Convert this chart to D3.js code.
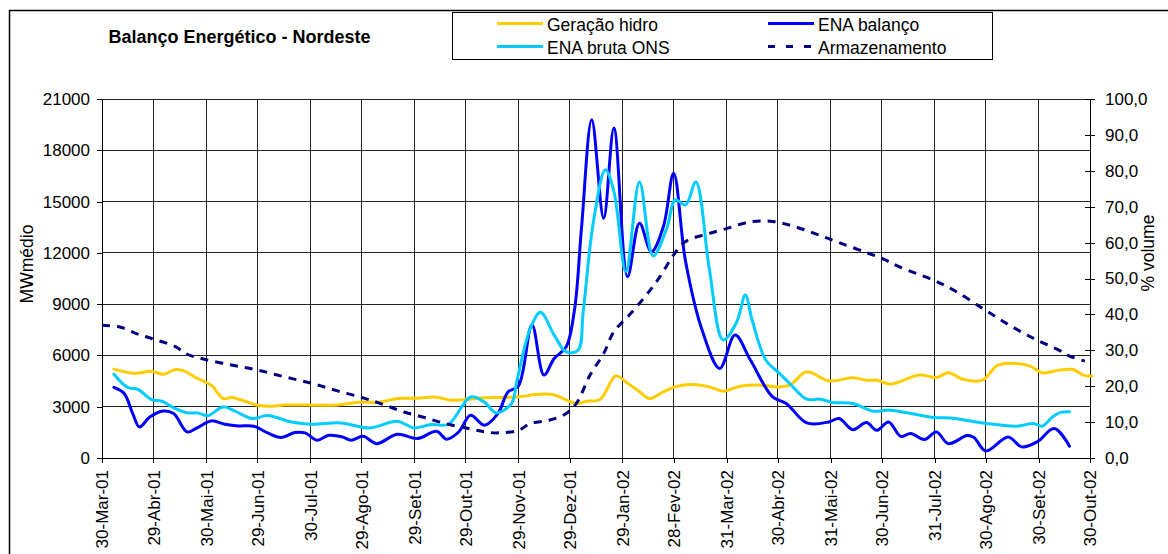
<!DOCTYPE html>
<html><head><meta charset="utf-8">
<script src="https://cdn.jsdelivr.net/npm/d3@7"></script>
<style>
html,body{margin:0;padding:0;background:#fff;}
svg{display:block;font-family:"Liberation Sans",Arial,sans-serif;}
</style></head><body>
<svg id="chart" width="1168" height="554"></svg>
<script>
// ---------- DATA ----------
const tickDates = ["2001-03-30","2001-04-29","2001-05-30","2001-06-29","2001-07-30","2001-08-29","2001-09-29","2001-10-29","2001-11-29","2001-12-29","2002-01-29","2002-02-28","2002-03-31","2002-04-30","2002-05-31","2002-06-30","2002-07-31","2002-08-30","2002-09-30","2002-10-30"];
const tickLabels = ["30-Mar-01","29-Abr-01","30-Mai-01","29-Jun-01","30-Jul-01","29-Ago-01","29-Set-01","29-Out-01","29-Nov-01","29-Dez-01","29-Jan-02","28-Fev-02","31-Mar-02","30-Abr-02","31-Mai-02","30-Jun-02","31-Jul-02","30-Ago-02","30-Set-02","30-Out-02"];
const leftTicks = [0,3000,6000,9000,12000,15000,18000,21000];
const rightTicks = [0,10,20,30,40,50,60,70,80,90,100];

const hidroDates = ["2001-04-06","2001-04-18","2001-04-28","2001-05-05","2001-05-12","2001-05-17","2001-05-25","2001-06-02","2001-06-09","2001-06-14","2001-06-20","2001-06-29","2001-07-07","2001-07-15","2001-08-04","2001-08-15","2001-08-29","2001-09-08","2001-09-19","2001-10-01","2001-10-11","2001-10-21","2001-10-30","2001-11-09","2001-11-21","2001-12-03","2001-12-08","2001-12-19","2002-01-02","2002-01-08","2002-01-16","2002-01-25","2002-01-31","2002-02-08","2002-02-14","2002-02-22","2002-03-02","2002-03-11","2002-03-21","2002-03-29","2002-04-08","2002-04-20","2002-04-29","2002-05-07","2002-05-17","2002-05-30","2002-06-13","2002-06-21","2002-06-27","2002-07-05","2002-07-22","2002-08-01","2002-08-08","2002-08-17","2002-08-28","2002-09-06","2002-09-17","2002-09-25","2002-10-02","2002-10-12","2002-10-20","2002-10-26","2002-10-31"];
const hidroValues = [5200,4950,5080,4900,5180,5100,4650,4260,3480,3540,3380,3090,3030,3100,3090,3100,3280,3260,3480,3500,3570,3380,3420,3520,3540,3620,3710,3710,3190,3320,3440,4800,4450,3870,3480,3870,4200,4300,4160,3910,4200,4260,4160,4260,5040,4510,4690,4550,4550,4320,4850,4710,4980,4590,4550,5430,5530,5370,4980,5140,5180,4850,4790];

const brutaDates = ["2001-04-06","2001-04-14","2001-04-20","2001-04-28","2001-05-04","2001-05-12","2001-05-19","2001-05-25","2001-05-31","2001-06-09","2001-06-16","2001-06-26","2001-07-05","2001-07-19","2001-07-31","2001-08-17","2001-09-03","2001-09-19","2001-09-29","2001-10-09","2001-10-19","2001-11-01","2001-11-09","2001-11-16","2001-11-25","2001-11-28","2001-12-06","2001-12-12","2001-12-20","2001-12-27","2002-01-03","2002-01-06","2002-01-12","2002-01-19","2002-01-24","2002-01-31","2002-02-08","2002-02-16","2002-02-24","2002-03-01","2002-03-07","2002-03-13","2002-03-21","2002-03-29","2002-04-06","2002-04-11","2002-04-15","2002-04-23","2002-05-01","2002-05-07","2002-05-17","2002-05-25","2002-06-01","2002-06-13","2002-06-25","2002-07-05","2002-07-30","2002-08-09","2002-08-28","2002-09-17","2002-09-27","2002-10-02","2002-10-08","2002-10-12","2002-10-18"];
const brutaValues = [4900,4130,4010,3420,3320,2890,2640,2640,2480,2990,2740,2310,2480,2110,1975,2050,1760,2150,1760,1960,1975,3570,3280,2640,3190,4450,7580,8520,7190,6210,6310,8550,13830,16860,15590,10900,16140,11820,13440,15100,14810,16140,11000,6900,7970,9530,8070,5730,4950,4360,3440,3440,3250,3190,2740,2800,2370,2340,2050,1860,2020,1860,2400,2640,2700];

const balancoDates = ["2001-04-06","2001-04-12","2001-04-17","2001-04-21","2001-04-27","2001-05-05","2001-05-11","2001-05-19","2001-05-25","2001-06-02","2001-06-10","2001-06-18","2001-06-27","2001-07-05","2001-07-13","2001-07-21","2001-07-27","2001-08-03","2001-08-10","2001-08-18","2001-08-23","2001-08-30","2001-09-07","2001-09-19","2001-10-01","2001-10-12","2001-10-18","2001-10-25","2001-11-01","2001-11-09","2001-11-17","2001-11-23","2001-11-29","2001-12-07","2001-12-14","2001-12-20","2001-12-27","2002-01-01","2002-01-05","2002-01-11","2002-01-18","2002-01-24","2002-02-01","2002-02-08","2002-02-15","2002-02-22","2002-02-28","2002-03-07","2002-03-17","2002-03-27","2002-04-05","2002-04-14","2002-04-27","2002-05-05","2002-05-17","2002-05-30","2002-06-05","2002-06-13","2002-06-21","2002-06-27","2002-07-04","2002-07-11","2002-07-17","2002-07-25","2002-08-01","2002-08-08","2002-08-19","2002-08-23","2002-08-30","2002-09-12","2002-09-20","2002-09-29","2002-10-09","2002-10-18"];
const balancoValues = [4130,3770,2600,1820,2400,2750,2600,1520,1780,2170,1975,1875,1860,1470,1200,1490,1470,1040,1330,1230,1040,1270,840,1390,1140,1560,1100,1520,2500,1920,2600,3870,4200,7780,4850,5820,6500,8750,13440,19790,14030,19300,10600,13730,12070,13540,16660,11490,7380,5240,7190,5730,3570,3190,2050,2110,2310,1660,2070,1620,2110,1270,1430,1080,1520,840,1310,1200,410,1230,650,940,1720,690];

const armDates = ["2001-03-30","2001-04-10","2001-04-20","2001-04-28","2001-05-12","2001-05-19","2001-05-29","2001-06-14","2001-06-29","2001-07-15","2001-07-31","2001-08-15","2001-08-31","2001-09-12","2001-09-23","2001-10-05","2001-10-17","2001-10-29","2001-11-09","2001-11-17","2001-11-29","2001-12-06","2001-12-17","2001-12-27","2002-01-02","2002-01-10","2002-01-18","2002-01-24","2002-02-02","2002-02-12","2002-02-20","2002-02-28","2002-03-07","2002-03-19","2002-03-31","2002-04-14","2002-04-27","2002-05-09","2002-05-23","2002-06-05","2002-06-21","2002-07-01","2002-07-10","2002-07-30","2002-08-11","2002-08-28","2002-09-11","2002-09-27","2002-10-12","2002-10-18","2002-10-27"];
const armValues = [37.0,36.4,34.5,33.3,31.0,28.9,27.5,25.9,24.5,22.6,20.8,18.7,16.6,14.7,12.8,11.3,9.6,8.4,7.3,7.0,7.7,9.6,10.5,12.4,15.2,23.1,29.1,35.2,39.8,45.4,50.5,56.6,60.3,62.3,63.9,65.8,65.9,64.6,62.3,60.0,57.2,55.4,53.3,49.6,46.8,41.7,37.5,33.3,30.0,28.4,27.0];

const seriesNames = ["Geração hidro","ENA balanço","ENA bruta ONS","Armazenamento"];
const seriesColors = ["#FFCC00","#0000FF","#00CCFF","#000080"];
const titleText = "Balanço Energético - Nordeste";

// ---------- LAYOUT ----------
const parse = d3.timeParse("%Y-%m-%d");
const svg = d3.select("#chart");
const L = 102, R = 1090, T = 99, B = 458;

const x = d3.scaleTime().domain([parse(tickDates[0]), parse(tickDates[tickDates.length-1])]).range([L, R]);
const yL = d3.scaleLinear().domain([0, 21000]).range([B, T]);
const yR = d3.scaleLinear().domain([0, 100]).range([B, T]);

// outer frame
svg.append("rect").attr("x", 9.5).attr("y", 10.5).attr("width", 1300).attr("height", 700)
  .attr("fill", "#fff").attr("stroke", "#000").attr("stroke-width", 1.5);

// grid
const grid = svg.append("g").attr("shape-rendering", "crispEdges").attr("stroke", "#222").attr("stroke-width", 1);
grid.selectAll("line.h").data(leftTicks).join("line")
  .attr("x1", L).attr("x2", R).attr("y1", d => yL(d)).attr("y2", d => yL(d));
grid.selectAll("line.v").data(tickDates).join("line")
  .attr("x1", d => x(parse(d))).attr("x2", d => x(parse(d))).attr("y1", T).attr("y2", B);

// axes
const fontTick = "17px";
const axL = svg.append("g").attr("transform", `translate(${L},0)`)
  .call(d3.axisLeft(yL).tickValues(leftTicks).tickSize(5).tickPadding(7).tickFormat(d3.format("d")));
const axB = svg.append("g").attr("transform", `translate(0,${B})`)
  .call(d3.axisBottom(x).tickValues(tickDates.map(parse)).tickSize(5).tickFormat((d, i) => tickLabels[i]));
axB.selectAll("text").attr("transform", "rotate(-90)").attr("x", -12).attr("y", 0).attr("dy", "0.35em").style("text-anchor", "end");
const axR = svg.append("g").attr("transform", `translate(${R},0)`)
  .call(d3.axisRight(yR).tickValues(rightTicks).tickSize(5).tickPadding(10).tickFormat(d => d3.format(".1f")(d).replace(".", ",")));
axR.selectAll(".tick line").attr("x1", -5).attr("x2", 5);
[axL, axB, axR].forEach(a => {
  a.attr("font-family", null).attr("font-size", null);
  a.selectAll("text").style("font-size", fontTick).attr("fill", "#000");
  a.selectAll("line,path").attr("stroke", "#000").attr("shape-rendering", "crispEdges");
});
axR.select(".domain").attr("stroke-width", 1.5);

// series
const curve = d3.curveCatmullRom.alpha(0.5);
function drawSeries(dates, values, yScale, color, dash) {
  const pts = d3.zip(dates, values).map(([d, v]) => ({ d: parse(d), v }));
  svg.append("path").datum(pts)
    .attr("fill", "none").attr("stroke", color).attr("stroke-width", 3)
    .attr("stroke-linejoin", "round").attr("stroke-linecap", dash ? "butt" : "round")
    .attr("stroke-dasharray", dash || null)
    .attr("d", d3.line().x(p => x(p.d)).y(p => yScale(p.v)).curve(curve));
}
drawSeries(hidroDates, hidroValues, yL, seriesColors[0]);
drawSeries(balancoDates, balancoValues, yL, seriesColors[1]);
drawSeries(brutaDates, brutaValues, yL, seriesColors[2]);
drawSeries(armDates, armValues, yR, seriesColors[3], "8,7");

// titles
svg.append("text").attr("x", 239.5).attr("y", 43).attr("text-anchor", "middle")
  .style("font-size", "18px").style("font-weight", "bold").text(titleText);
svg.append("text").attr("transform", "translate(27,264) rotate(-90)").attr("text-anchor", "middle")
  .attr("dy", "0.35em").style("font-size", "17.5px").text("MWmédio");
svg.append("text").attr("transform", "translate(1148,253) rotate(-90)").attr("text-anchor", "middle")
  .attr("dy", "0.35em").style("font-size", "17.5px").text("% volume");

// legend
const lg = svg.append("g");
lg.append("rect").attr("x", 452.5).attr("y", 12.5).attr("width", 540).attr("height", 47)
  .attr("fill", "#fff").attr("stroke", "#000").attr("stroke-width", 1);
const legendPos = [[497, 23.5], [768, 23.5], [497, 46.5], [768, 46.5]];
seriesNames.forEach((name, i) => {
  const [lx, ly] = legendPos[i];
  lg.append("line").attr("x1", lx).attr("x2", lx + 46).attr("y1", ly).attr("y2", ly)
    .attr("stroke", seriesColors[i]).attr("stroke-width", 3)
    .attr("stroke-dasharray", i === 3 ? "7,11" : null);
  lg.append("text").attr("x", lx + 50).attr("y", ly + 7).style("font-size", "17.5px").text(name);
});
</script>
</body></html>
